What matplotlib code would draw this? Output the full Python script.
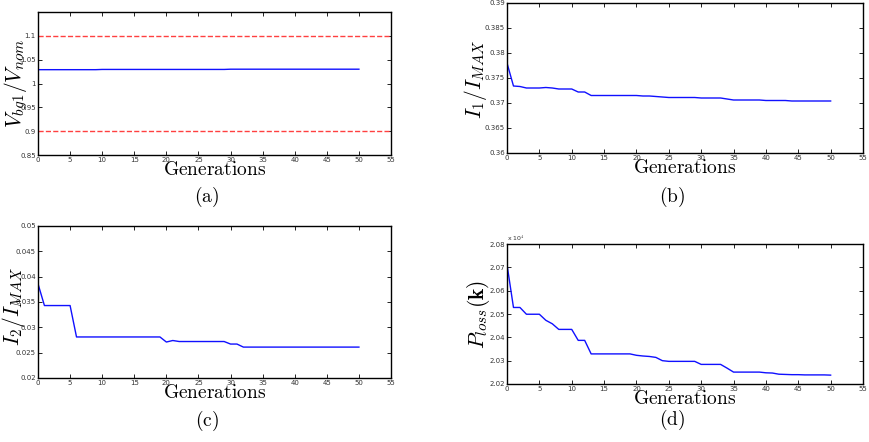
import numpy as np
import matplotlib.pyplot as plt

plt.rcParams['mathtext.fontset'] = 'cm'

gens = np.arange(0, 51)

# (a) voltage at bus bg1, per unit
v_bg1 = [1.029] * 10 + [1.0295] * 20 + [1.03] * 21
v_min, v_max = 0.9, 1.1

# (b) I1 / IMAX
i1 = [0.3780, 0.3734, 0.3733, 0.3730, 0.3730, 0.3730, 0.3731, 0.3730, 0.3728, 0.3728,
      0.3728, 0.3722, 0.3722, 0.3715, 0.3715, 0.3715, 0.3715, 0.3715, 0.3715, 0.3715,
      0.3715, 0.3714, 0.3714, 0.3713, 0.3712, 0.3711, 0.3711, 0.3711, 0.3711, 0.3711,
      0.3710, 0.3710, 0.3710, 0.3710, 0.3708, 0.3706, 0.3706, 0.3706, 0.3706, 0.3706,
      0.3705, 0.3705, 0.3705, 0.3705, 0.3704, 0.3704, 0.3704, 0.3704, 0.3704, 0.3704,
      0.3704]

# (c) I2 / IMAX
i2 = [0.0386, 0.0343, 0.0343, 0.0343, 0.0343, 0.0343, 0.0281, 0.0281, 0.0281, 0.0281,
      0.0281, 0.0281, 0.0281, 0.0281, 0.0281, 0.0281, 0.0281, 0.0281, 0.0281, 0.0281,
      0.0271, 0.0274, 0.0272, 0.0272, 0.0272, 0.0272, 0.0272, 0.0272, 0.0272, 0.0272,
      0.0267, 0.0267, 0.0261, 0.0261, 0.0261, 0.0261, 0.0261, 0.0261, 0.0261, 0.0261,
      0.0261, 0.0261, 0.0261, 0.0261, 0.0261, 0.0261, 0.0261, 0.0261, 0.0261, 0.0261,
      0.0261]

# (d) power loss, x 10^4 kW
p_loss = [2.0712, 2.0528, 2.0528, 2.0499, 2.0499, 2.0499, 2.0473, 2.0458, 2.0434, 2.0434,
          2.0434, 2.0387, 2.0387, 2.0329, 2.0329, 2.0329, 2.0329, 2.0329, 2.0329, 2.0329,
          2.0323, 2.0320, 2.0318, 2.0314, 2.0300, 2.0297, 2.0297, 2.0297, 2.0297, 2.0297,
          2.0284, 2.0284, 2.0284, 2.0284, 2.0268, 2.0251, 2.0251, 2.0251, 2.0251, 2.0251,
          2.0248, 2.0247, 2.0242, 2.0241, 2.0240, 2.0240, 2.0239, 2.0239, 2.0239, 2.0239,
          2.0238]

x_ticks = np.arange(0, 56, 5)

fig = plt.figure(figsize=(8.69, 4.42), dpi=100)

W, H = 869., 442.
def box(l, t, r, b):
    return [l / W, 1 - b / H, (r - l) / W, (b - t) / H]

ax_a = fig.add_axes(box(38, 12, 391, 155))
ax_b = fig.add_axes(box(507, 3, 863, 153))
ax_c = fig.add_axes(box(38, 226, 391, 378))
ax_d = fig.add_axes(box(507, 244, 863, 384))

ax_a.plot(gens, v_bg1, color='#1010ff', lw=1)
ax_a.axhline(v_max, color='#ff4040', ls='--', lw=1)
ax_a.axhline(v_min, color='#ff4040', ls='--', lw=1)
ax_a.set_ylim(0.85, 1.15)
ax_a.set_yticks([0.85, 0.9, 0.95, 1.0, 1.05, 1.1])
ax_a.set_yticklabels(['0.85', '0.9', '0.95', '1', '1.05', '1.1'])

ax_b.plot(gens, i1, color='#1010ff', lw=1)
ax_b.set_ylim(0.36, 0.39)
ax_b.set_yticks(np.arange(0.36, 0.3901, 0.005))
ax_b.set_yticklabels(['0.36', '0.365', '0.37', '0.375', '0.38', '0.385', '0.39'])

ax_c.plot(gens, i2, color='#1010ff', lw=1)
ax_c.set_ylim(0.02, 0.05)
ax_c.set_yticks(np.arange(0.02, 0.0501, 0.005))
ax_c.set_yticklabels(['0.02', '0.025', '0.03', '0.035', '0.04', '0.045', '0.05'])

ax_d.plot(gens, p_loss, color='#1010ff', lw=1)
ax_d.set_ylim(2.02, 2.08)
ax_d.set_yticks(np.arange(2.02, 2.0801, 0.01))
ax_d.set_yticklabels(['2.02', '2.03', '2.04', '2.05', '2.06', '2.07', '2.08'])
ax_d.text(0.0, 1.01, r'x 10$^4$', transform=ax_d.transAxes, fontsize=4.5,
          ha='left', va='bottom', color='#333333')

ylabels = [r'$V_{bg1}/V_{nom}$', r'$I_1/I_{MAX}$', r'$I_2/I_{MAX}$', r'$P_{loss}(\mathbf{k})$']
label_pos = [(-0.022, 0.5), (-0.05, 0.49), (-0.03, 0.47), (-0.042, 0.5)]
for ax, lab, pos in zip([ax_a, ax_b, ax_c, ax_d], ylabels, label_pos):
    ax.set_xlim(0, 55)
    ax.set_xticks(x_ticks)
    ax.tick_params(direction='in', length=3, width=0.6, labelsize=5,
                   top=True, right=True, pad=1.5, labelcolor='#333333')
    for s in ax.spines.values():
        s.set_linewidth(1.0)
    ax.set_ylabel(lab, fontsize=15.5)
    ax.yaxis.set_label_coords(*pos)
    ax.set_xlabel(r'$\mathrm{Generations}$', fontsize=14, labelpad=-2)

caps = [('(a)', 207, 197), ('(b)', 672, 197), ('(c)', 207, 421), ('(d)', 672, 420)]
for txt, x, y in caps:
    fig.text(x / W, 1 - y / H, r'$\mathrm{' + txt + '}$', fontsize=14,
             ha='center', va='center')

fig.savefig('out.png', dpi=100)
